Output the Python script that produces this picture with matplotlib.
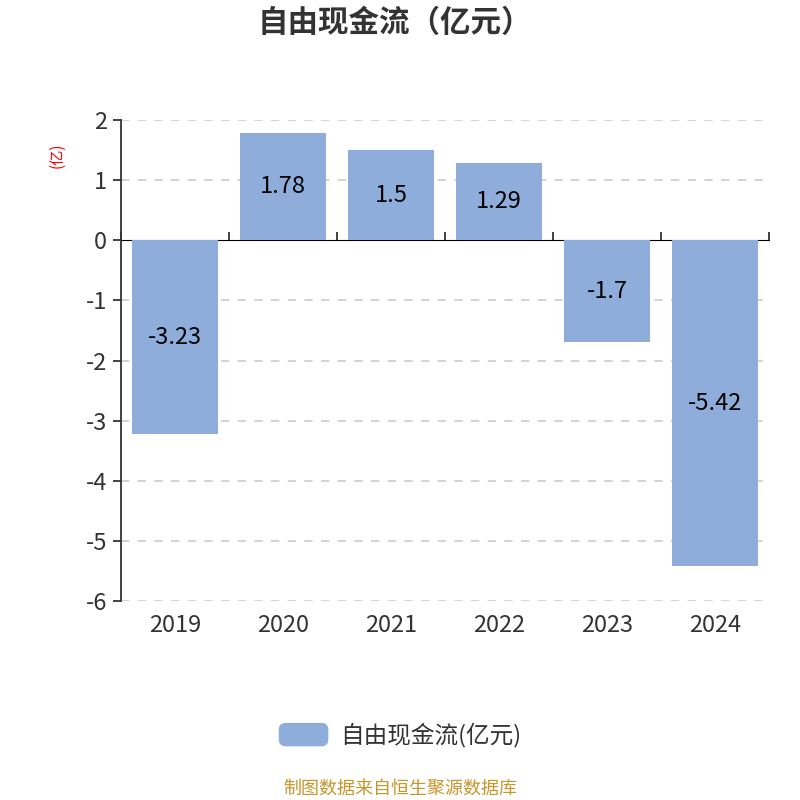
import matplotlib.pyplot as plt
import numpy as np
from matplotlib.patches import FancyBboxPatch
from matplotlib.legend_handler import HandlerPatch

plt.rcParams['font.family'] = ['Noto Sans CJK SC', 'DejaVu Sans']

# data
years = ['2019', '2020', '2021', '2022', '2023', '2024']
fcf = [-3.23, 1.78, 1.5, 1.29, -1.7, -5.42]
yticks = [2, 1, 0, -1, -2, -3, -4, -5, -6]

bar_color = '#8eaddb'
axis_color = '#333333'

fig = plt.figure(figsize=(8, 8), dpi=100)
ax = fig.add_axes([0.15125, 0.24875, 0.81, 0.60125])

x = np.arange(len(years))
bars = ax.bar(x, fcf, width=0.8, color=bar_color, zorder=3)

# value labels in the middle of each bar
for xi, v in zip(x, fcf):
    ax.text(xi, v / 2, f'{v:g}', ha='center', va='center', fontsize=17, color='black', zorder=4)

ax.set_xlim(-0.5, len(years) - 0.5)
ax.set_ylim(-6, 2)
ax.set_yticks(yticks)
ax.set_yticklabels([str(t) for t in yticks])

# dashed grid, zero line solid
for t in yticks:
    if t != 0:
        ax.axhline(t, color='#cccccc', linestyle=(0, (5, 5)), linewidth=1.2, zorder=1)

ax.set_xticks(x)
ax.set_xticklabels(years)
ax.tick_params(axis='x', length=0, pad=9, labelsize=17, labelcolor=axis_color)
ax.tick_params(axis='y', length=6, width=1.3, color=axis_color, pad=4, labelsize=17, labelcolor=axis_color)

for s in ['top', 'right', 'bottom']:
    ax.spines[s].set_visible(False)
ax.spines['left'].set_color(axis_color)
ax.spines['left'].set_linewidth(1.3)

# category axis drawn at y = 0
sec = ax.secondary_xaxis(0.75)
sec.set_xticks(np.arange(-0.5, len(years), 1.0))
sec.set_xticklabels([])
sec.tick_params(axis='x', direction='out', length=6, width=1.3, color=axis_color)
sec.spines['bottom'].set_color(axis_color)
sec.spines['bottom'].set_linewidth(1.3)
sec.spines['bottom'].set_zorder(5)

ax.set_ylabel('(亿)', color='red', fontsize=11)
ax.yaxis.set_label_coords(-0.085, 0.927)

fig.text(0.493, 0.971, '自由现金流（亿元）', ha='center', va='center', fontsize=22,
         fontweight='bold', color=axis_color)


# rounded legend swatch
class RoundHandler(HandlerPatch):
    def create_artists(self, legend, orig_handle, xdescent, ydescent, width, height, fontsize, trans):
        p = FancyBboxPatch((-xdescent, -ydescent), width, height,
                           boxstyle='round,pad=0,rounding_size=5',
                           facecolor=bar_color, edgecolor='none', transform=trans)
        return [p]


leg = ax.legend([bars[0]], ['自由现金流(亿元)'], loc='center', bbox_to_anchor=(0.5, 0.081),
                bbox_transform=fig.transFigure,
                frameon=False, fontsize=17, handlelength=2.1, handleheight=1.15,
                handletextpad=0.5, labelcolor=axis_color,
                handler_map={type(bars[0]): RoundHandler()})

fig.text(0.5, 0.014, '制图数据来自恒生聚源数据库', ha='center', va='center', fontsize=13,
         color='#c8952a')

fig.savefig('out.png', dpi=100)
